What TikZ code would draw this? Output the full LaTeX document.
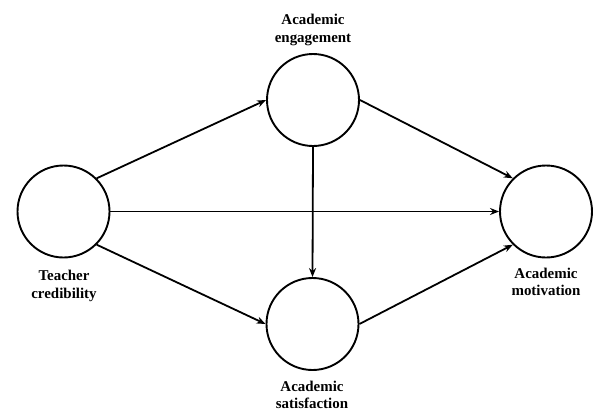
\documentclass[tikz,border=0pt]{standalone}
\usepackage{fontspec}
\setmainfont{Liberation Serif}
\usepackage{tikz}
\usetikzlibrary{arrows.meta}

\tikzset{
  var/.style={draw,circle,line width=1.9bp,minimum size=92bp,inner sep=0pt},
  lbl/.style={align=center,font=\bfseries\fontsize{15}{17.5}\selectfont},
  path/.style={line width=1.8bp,-{Stealth[length=9bp,width=7bp]}}
}

\begin{document}
\begin{tikzpicture}[x=1bp,y=1bp]
\useasboundingbox (0,0) rectangle (593,412);
% constructs
\node[var] (teacher) at (63.5,200.5) {};
\node[var] (engage) at (313,312) {};
\node[var] (satis) at (312.5,88) {};
\node[var] (motiv) at (546,200.5) {};
% labels
\node[lbl] (teachertxt) at (64,126) {Teacher\\credibility};
\node[lbl] (engagetxt) at (313,382) {Academic\\engagement};
\node[lbl] (satistxt) at (312,17) {Academic\\satisfaction};
\node[lbl] (motivtxt) at (546,130) {Academic\\motivation};
% paths
\draw[path] (teacher.north east) -- (engage.west);
\draw[path] (teacher.south east) -- (satis.west);
\draw[path] (teacher.east) -- (motiv.west);
\draw[path] (engage.east) -- (motiv.north west);
\draw[path] (satis.east) -- (motiv.south west);
\draw[path] (engage.south) -- (satis.north);
\end{tikzpicture}
\end{document}
